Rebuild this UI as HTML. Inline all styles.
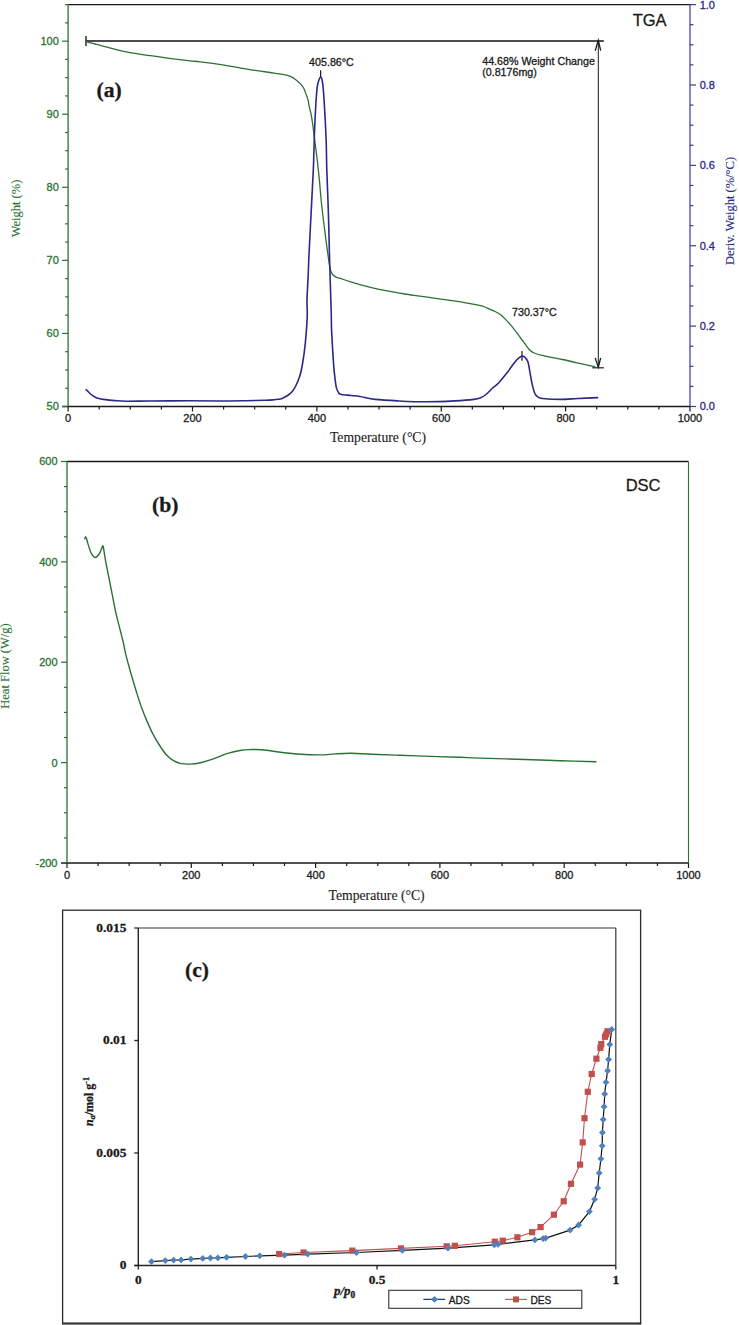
<!DOCTYPE html>
<html><head><meta charset="utf-8"><style>
html,body{margin:0;padding:0;background:#fff;}
svg{display:block;}
text{stroke-width:0.3px;paint-order:stroke;}
.s10{font-family:"Liberation Sans",sans-serif;font-size:10.7px;}
.s11{font-family:"Liberation Sans",sans-serif;font-size:11px;}
.s12{font-family:"Liberation Sans",sans-serif;font-size:10.2px;}
.s16{font-family:"Liberation Sans",sans-serif;font-size:16.5px;}
.r12{font-family:"Liberation Serif",serif;font-size:12.5px;stroke-width:0.12px;}
.r13{font-family:"Liberation Serif",serif;font-size:13.7px;stroke-width:0.12px;}
.b12{font-family:"Liberation Serif",serif;font-size:12px;font-weight:bold;}
.b13{font-family:"Liberation Serif",serif;font-size:13.4px;font-weight:bold;}
.bi13{font-family:"Liberation Serif",serif;font-size:13px;font-weight:bold;font-style:italic;}
.b20{font-family:"Liberation Serif",serif;font-size:21.6px;font-weight:bold;}
.b21{font-family:"Liberation Serif",serif;font-size:21.6px;font-weight:bold;}
</style></head><body>
<svg width="739" height="1325" viewBox="0 0 739 1325">
<rect width="739" height="1325" fill="#fff"/>
<line x1="68.1" y1="4.6" x2="690.0" y2="4.6" stroke="#1a1a1a" stroke-width="1.3"/>
<line x1="62.099999999999994" y1="406.5" x2="690.0" y2="406.5" stroke="#1a1a1a" stroke-width="1.3"/>
<line x1="68.1" y1="4.6" x2="68.1" y2="406.5" stroke="#2a7232" stroke-width="1.3"/>
<line x1="690.0" y1="4.6" x2="690.0" y2="406.5" stroke="#4848a4" stroke-width="1.3"/>
<line x1="62.099999999999994" y1="406.50" x2="68.1" y2="406.50" stroke="#2a7232" stroke-width="1.2"/>
<text x="58.8" y="410.40" text-anchor="end" class="s11" fill="#2a7232" stroke="#2a7232">50</text>
<line x1="65.1" y1="388.23" x2="68.1" y2="388.23" stroke="#2a7232" stroke-width="1.2"/>
<line x1="65.1" y1="369.96" x2="68.1" y2="369.96" stroke="#2a7232" stroke-width="1.2"/>
<line x1="65.1" y1="351.70" x2="68.1" y2="351.70" stroke="#2a7232" stroke-width="1.2"/>
<line x1="62.099999999999994" y1="333.43" x2="68.1" y2="333.43" stroke="#2a7232" stroke-width="1.2"/>
<text x="58.8" y="337.33" text-anchor="end" class="s11" fill="#2a7232" stroke="#2a7232">60</text>
<line x1="65.1" y1="315.16" x2="68.1" y2="315.16" stroke="#2a7232" stroke-width="1.2"/>
<line x1="65.1" y1="296.89" x2="68.1" y2="296.89" stroke="#2a7232" stroke-width="1.2"/>
<line x1="65.1" y1="278.62" x2="68.1" y2="278.62" stroke="#2a7232" stroke-width="1.2"/>
<line x1="62.099999999999994" y1="260.35" x2="68.1" y2="260.35" stroke="#2a7232" stroke-width="1.2"/>
<text x="58.8" y="264.25" text-anchor="end" class="s11" fill="#2a7232" stroke="#2a7232">70</text>
<line x1="65.1" y1="242.09" x2="68.1" y2="242.09" stroke="#2a7232" stroke-width="1.2"/>
<line x1="65.1" y1="223.82" x2="68.1" y2="223.82" stroke="#2a7232" stroke-width="1.2"/>
<line x1="65.1" y1="205.55" x2="68.1" y2="205.55" stroke="#2a7232" stroke-width="1.2"/>
<line x1="62.099999999999994" y1="187.28" x2="68.1" y2="187.28" stroke="#2a7232" stroke-width="1.2"/>
<text x="58.8" y="191.18" text-anchor="end" class="s11" fill="#2a7232" stroke="#2a7232">80</text>
<line x1="65.1" y1="169.01" x2="68.1" y2="169.01" stroke="#2a7232" stroke-width="1.2"/>
<line x1="65.1" y1="150.75" x2="68.1" y2="150.75" stroke="#2a7232" stroke-width="1.2"/>
<line x1="65.1" y1="132.48" x2="68.1" y2="132.48" stroke="#2a7232" stroke-width="1.2"/>
<line x1="62.099999999999994" y1="114.21" x2="68.1" y2="114.21" stroke="#2a7232" stroke-width="1.2"/>
<text x="58.8" y="118.11" text-anchor="end" class="s11" fill="#2a7232" stroke="#2a7232">90</text>
<line x1="65.1" y1="95.94" x2="68.1" y2="95.94" stroke="#2a7232" stroke-width="1.2"/>
<line x1="65.1" y1="77.67" x2="68.1" y2="77.67" stroke="#2a7232" stroke-width="1.2"/>
<line x1="65.1" y1="59.40" x2="68.1" y2="59.40" stroke="#2a7232" stroke-width="1.2"/>
<line x1="62.099999999999994" y1="41.14" x2="68.1" y2="41.14" stroke="#2a7232" stroke-width="1.2"/>
<text x="58.8" y="45.04" text-anchor="end" class="s11" fill="#2a7232" stroke="#2a7232">100</text>
<line x1="65.1" y1="22.87" x2="68.1" y2="22.87" stroke="#2a7232" stroke-width="1.2"/>
<line x1="65.1" y1="4.60" x2="68.1" y2="4.60" stroke="#2a7232" stroke-width="1.2"/>
<line x1="690.0" y1="406.50" x2="696.0" y2="406.50" stroke="#3a3a9c" stroke-width="1.2"/>
<text x="699.7" y="410.40" class="s11" fill="#2a2888" stroke="#2a2888">0.0</text>
<line x1="690.0" y1="386.40" x2="693.5" y2="386.40" stroke="#3a3a9c" stroke-width="1.2"/>
<line x1="690.0" y1="366.31" x2="693.5" y2="366.31" stroke="#3a3a9c" stroke-width="1.2"/>
<line x1="690.0" y1="346.21" x2="693.5" y2="346.21" stroke="#3a3a9c" stroke-width="1.2"/>
<line x1="690.0" y1="326.12" x2="696.0" y2="326.12" stroke="#3a3a9c" stroke-width="1.2"/>
<text x="699.7" y="330.02" class="s11" fill="#2a2888" stroke="#2a2888">0.2</text>
<line x1="690.0" y1="306.02" x2="693.5" y2="306.02" stroke="#3a3a9c" stroke-width="1.2"/>
<line x1="690.0" y1="285.93" x2="693.5" y2="285.93" stroke="#3a3a9c" stroke-width="1.2"/>
<line x1="690.0" y1="265.84" x2="693.5" y2="265.84" stroke="#3a3a9c" stroke-width="1.2"/>
<line x1="690.0" y1="245.74" x2="696.0" y2="245.74" stroke="#3a3a9c" stroke-width="1.2"/>
<text x="699.7" y="249.64" class="s11" fill="#2a2888" stroke="#2a2888">0.4</text>
<line x1="690.0" y1="225.65" x2="693.5" y2="225.65" stroke="#3a3a9c" stroke-width="1.2"/>
<line x1="690.0" y1="205.55" x2="693.5" y2="205.55" stroke="#3a3a9c" stroke-width="1.2"/>
<line x1="690.0" y1="185.45" x2="693.5" y2="185.45" stroke="#3a3a9c" stroke-width="1.2"/>
<line x1="690.0" y1="165.36" x2="696.0" y2="165.36" stroke="#3a3a9c" stroke-width="1.2"/>
<text x="699.7" y="169.26" class="s11" fill="#2a2888" stroke="#2a2888">0.6</text>
<line x1="690.0" y1="145.26" x2="693.5" y2="145.26" stroke="#3a3a9c" stroke-width="1.2"/>
<line x1="690.0" y1="125.17" x2="693.5" y2="125.17" stroke="#3a3a9c" stroke-width="1.2"/>
<line x1="690.0" y1="105.08" x2="693.5" y2="105.08" stroke="#3a3a9c" stroke-width="1.2"/>
<line x1="690.0" y1="84.98" x2="696.0" y2="84.98" stroke="#3a3a9c" stroke-width="1.2"/>
<text x="699.7" y="88.88" class="s11" fill="#2a2888" stroke="#2a2888">0.8</text>
<line x1="690.0" y1="64.88" x2="693.5" y2="64.88" stroke="#3a3a9c" stroke-width="1.2"/>
<line x1="690.0" y1="44.79" x2="693.5" y2="44.79" stroke="#3a3a9c" stroke-width="1.2"/>
<line x1="690.0" y1="24.69" x2="693.5" y2="24.69" stroke="#3a3a9c" stroke-width="1.2"/>
<line x1="690.0" y1="4.60" x2="696.0" y2="4.60" stroke="#3a3a9c" stroke-width="1.2"/>
<text x="699.7" y="8.50" class="s11" fill="#2a2888" stroke="#2a2888">1.0</text>
<line x1="68.10" y1="406.5" x2="68.10" y2="411.5" stroke="#1a1a1a" stroke-width="1.2"/>
<text x="68.10" y="421.6" text-anchor="middle" class="s11" fill="#1a1a1a" stroke="#1a1a1a">0</text>
<line x1="99.19" y1="406.5" x2="99.19" y2="409.5" stroke="#1a1a1a" stroke-width="1.2"/>
<line x1="130.29" y1="406.5" x2="130.29" y2="409.5" stroke="#1a1a1a" stroke-width="1.2"/>
<line x1="161.38" y1="406.5" x2="161.38" y2="409.5" stroke="#1a1a1a" stroke-width="1.2"/>
<line x1="192.48" y1="406.5" x2="192.48" y2="411.5" stroke="#1a1a1a" stroke-width="1.2"/>
<text x="192.48" y="421.6" text-anchor="middle" class="s11" fill="#1a1a1a" stroke="#1a1a1a">200</text>
<line x1="223.57" y1="406.5" x2="223.57" y2="409.5" stroke="#1a1a1a" stroke-width="1.2"/>
<line x1="254.67" y1="406.5" x2="254.67" y2="409.5" stroke="#1a1a1a" stroke-width="1.2"/>
<line x1="285.76" y1="406.5" x2="285.76" y2="409.5" stroke="#1a1a1a" stroke-width="1.2"/>
<line x1="316.86" y1="406.5" x2="316.86" y2="411.5" stroke="#1a1a1a" stroke-width="1.2"/>
<text x="316.86" y="421.6" text-anchor="middle" class="s11" fill="#1a1a1a" stroke="#1a1a1a">400</text>
<line x1="347.96" y1="406.5" x2="347.96" y2="409.5" stroke="#1a1a1a" stroke-width="1.2"/>
<line x1="379.05" y1="406.5" x2="379.05" y2="409.5" stroke="#1a1a1a" stroke-width="1.2"/>
<line x1="410.14" y1="406.5" x2="410.14" y2="409.5" stroke="#1a1a1a" stroke-width="1.2"/>
<line x1="441.24" y1="406.5" x2="441.24" y2="411.5" stroke="#1a1a1a" stroke-width="1.2"/>
<text x="441.24" y="421.6" text-anchor="middle" class="s11" fill="#1a1a1a" stroke="#1a1a1a">600</text>
<line x1="472.34" y1="406.5" x2="472.34" y2="409.5" stroke="#1a1a1a" stroke-width="1.2"/>
<line x1="503.43" y1="406.5" x2="503.43" y2="409.5" stroke="#1a1a1a" stroke-width="1.2"/>
<line x1="534.52" y1="406.5" x2="534.52" y2="409.5" stroke="#1a1a1a" stroke-width="1.2"/>
<line x1="565.62" y1="406.5" x2="565.62" y2="411.5" stroke="#1a1a1a" stroke-width="1.2"/>
<text x="565.62" y="421.6" text-anchor="middle" class="s11" fill="#1a1a1a" stroke="#1a1a1a">800</text>
<line x1="596.72" y1="406.5" x2="596.72" y2="409.5" stroke="#1a1a1a" stroke-width="1.2"/>
<line x1="627.81" y1="406.5" x2="627.81" y2="409.5" stroke="#1a1a1a" stroke-width="1.2"/>
<line x1="658.90" y1="406.5" x2="658.90" y2="409.5" stroke="#1a1a1a" stroke-width="1.2"/>
<line x1="690.00" y1="406.5" x2="690.00" y2="411.5" stroke="#1a1a1a" stroke-width="1.2"/>
<text x="690.00" y="421.6" text-anchor="middle" class="s11" fill="#1a1a1a" stroke="#1a1a1a">1000</text>
<text x="378" y="441.6" text-anchor="middle" class="r13" fill="#1a1a1a" stroke="#1a1a1a">Temperature (°C)</text>
<text transform="translate(20.2,208.5) rotate(-90)" text-anchor="middle" class="r12" fill="#2a7232" stroke="#2a7232">Weight (%)</text>
<text transform="translate(733.8,211) rotate(-90)" text-anchor="middle" class="r12" fill="#2a2888" stroke="#2a2888">Deriv. Weight (%/°C)</text>
<text x="632.7" y="26.3" class="s16" fill="#1a1a1a" stroke="#1a1a1a">TGA</text>
<text x="96.6" y="96.5" class="b21" fill="#1a1a1a" stroke="#1a1a1a">(a)</text>
<line x1="86" y1="41" x2="603.8" y2="41" stroke="#111" stroke-width="1.5"/>
<line x1="86" y1="36" x2="86" y2="46" stroke="#1a1a1a" stroke-width="1.4"/>
<line x1="598.3" y1="40" x2="598.3" y2="367" stroke="#1a1a1a" stroke-width="1"/>
<polyline points="595.2,50.7 598.3,40.2 600.7,50.7" fill="none" stroke="#1a1a1a" stroke-width="1.3"/>
<polyline points="595.2,357.9 598.3,367.2 600.7,357.9" fill="none" stroke="#1a1a1a" stroke-width="1.3"/>
<line x1="592.3" y1="367.8" x2="603.8" y2="367.8" stroke="#1a1a1a" stroke-width="1.2"/>
<text x="482.2" y="64.6" class="s10" fill="#1a1a1a" stroke="#1a1a1a">44.68% Weight Change</text>
<text x="482.2" y="75.8" class="s10" fill="#1a1a1a" stroke="#1a1a1a">(0.8176mg)</text>
<text x="309.1" y="66.1" class="s10" fill="#1a1a1a" stroke="#1a1a1a">405.86°C</text>
<text x="512" y="315.6" class="s10" fill="#1a1a1a" stroke="#1a1a1a">730.37°C</text>
<line x1="320.6" y1="70.3" x2="320.6" y2="78" stroke="#1a1a1a" stroke-width="1.2"/>
<line x1="522" y1="351" x2="522" y2="360.7" stroke="#1a1a1a" stroke-width="1.2"/>
<path d="M86.00,41.30 C86.67,41.52 88.50,42.15 90.00,42.60 C91.50,43.05 93.00,43.45 95.00,44.00 C97.00,44.55 99.53,45.27 102.00,45.90 C104.47,46.53 105.35,46.72 109.80,47.80 C114.25,48.88 122.00,51.10 128.70,52.40 C135.40,53.70 143.23,54.62 150.00,55.60 C156.77,56.58 162.63,57.43 169.30,58.30 C175.97,59.17 184.88,60.22 190.00,60.80 C195.12,61.38 194.58,61.12 200.00,61.80 C205.42,62.48 213.35,63.47 222.50,64.90 C231.65,66.33 246.98,69.13 254.90,70.40 C262.82,71.67 265.93,71.93 270.00,72.50 C274.07,73.07 276.40,73.32 279.30,73.80 C282.20,74.28 285.28,74.85 287.40,75.40 C289.52,75.95 290.65,76.43 292.00,77.10 C293.35,77.77 294.20,78.38 295.50,79.40 C296.80,80.42 298.45,81.77 299.80,83.20 C301.15,84.63 302.52,86.05 303.60,88.00 C304.68,89.95 305.53,92.82 306.30,94.90 C307.07,96.98 307.75,98.77 308.20,100.50 C308.65,102.23 308.53,103.05 309.00,105.30 C309.47,107.55 310.40,110.97 311.00,114.00 C311.60,117.03 311.95,118.90 312.60,123.50 C313.25,128.10 314.13,135.57 314.90,141.60 C315.67,147.63 316.45,153.28 317.20,159.70 C317.95,166.12 318.70,172.97 319.40,180.10 C320.10,187.23 320.53,194.27 321.40,202.50 C322.27,210.73 323.52,220.85 324.60,229.50 C325.68,238.15 327.05,248.23 327.90,254.40 C328.75,260.57 329.18,263.65 329.70,266.50 C330.22,269.35 330.45,270.08 331.00,271.50 C331.55,272.92 332.17,274.05 333.00,275.00 C333.83,275.95 334.92,276.67 336.00,277.20 C337.08,277.73 337.03,277.42 339.50,278.20 C341.97,278.98 347.12,280.73 350.80,281.90 C354.48,283.07 357.98,284.20 361.60,285.20 C365.22,286.20 368.88,287.08 372.50,287.90 C376.12,288.72 379.70,289.38 383.30,290.10 C386.90,290.82 390.50,291.55 394.10,292.20 C397.70,292.85 400.58,293.35 404.90,294.00 C409.22,294.65 415.40,295.45 420.00,296.10 C424.60,296.75 427.50,297.20 432.50,297.90 C437.50,298.60 445.28,299.63 450.00,300.30 C454.72,300.97 457.20,301.30 460.80,301.90 C464.40,302.50 467.98,303.18 471.60,303.90 C475.22,304.62 479.43,305.28 482.50,306.20 C485.57,307.12 487.92,308.52 490.00,309.40 C492.08,310.28 493.27,310.63 495.00,311.50 C496.73,312.37 498.60,313.25 500.40,314.60 C502.20,315.95 504.00,317.77 505.80,319.60 C507.60,321.43 509.38,323.43 511.20,325.60 C513.02,327.77 514.88,330.20 516.70,332.60 C518.52,335.00 520.38,337.67 522.10,340.00 C523.82,342.33 525.60,344.80 527.00,346.60 C528.40,348.40 529.28,349.73 530.50,350.80 C531.72,351.87 532.58,352.27 534.30,353.00 C536.02,353.73 537.92,354.48 540.80,355.20 C543.68,355.92 547.98,356.58 551.60,357.30 C555.22,358.02 558.88,358.72 562.50,359.50 C566.12,360.28 569.70,361.18 573.30,362.00 C576.90,362.82 580.40,363.58 584.10,364.40 C587.80,365.22 593.60,366.48 595.50,366.90" fill="none" stroke="#2a7232" stroke-width="1.3" stroke-linejoin="round"/>
<path d="M85.50,389.30 C85.83,389.55 86.88,390.23 87.50,390.80 C88.12,391.37 88.45,391.97 89.20,392.70 C89.95,393.43 91.05,394.48 92.00,395.20 C92.95,395.92 93.73,396.43 94.90,397.00 C96.07,397.57 97.58,398.20 99.00,398.60 C100.42,399.00 100.73,399.07 103.40,399.40 C106.07,399.73 111.22,400.30 115.00,400.60 C118.78,400.90 120.27,401.13 126.10,401.20 C131.93,401.27 139.58,401.07 150.00,401.00 C160.42,400.93 176.93,400.80 188.60,400.80 C200.27,400.80 210.52,401.02 220.00,401.00 C229.48,400.98 238.00,400.82 245.50,400.70 C253.00,400.58 260.27,400.45 265.00,400.30 C269.73,400.15 271.72,399.97 273.90,399.80 C276.08,399.63 276.75,399.53 278.10,399.30 C279.45,399.07 280.42,399.03 282.00,398.40 C283.58,397.77 285.93,396.60 287.60,395.50 C289.27,394.40 290.65,393.38 292.00,391.80 C293.35,390.22 294.40,388.63 295.70,386.00 C297.00,383.37 298.67,379.67 299.80,376.00 C300.93,372.33 301.60,369.32 302.50,364.00 C303.40,358.68 304.42,351.92 305.20,344.10 C305.98,336.28 306.90,324.45 307.20,317.10 C307.50,309.75 306.83,307.02 307.00,300.00 C307.17,292.98 307.88,282.23 308.20,275.00 C308.52,267.77 308.42,266.88 308.90,256.60 C309.38,246.32 310.37,227.73 311.10,213.30 C311.83,198.87 312.73,183.47 313.30,170.00 C313.87,156.53 314.08,143.28 314.50,132.50 C314.92,121.72 315.35,112.85 315.80,105.30 C316.25,97.75 316.70,91.33 317.20,87.20 C317.70,83.07 318.23,82.20 318.80,80.50 C319.37,78.80 320.03,77.00 320.60,77.00 C321.17,77.00 321.72,78.05 322.20,80.50 C322.68,82.95 323.05,86.05 323.50,91.70 C323.95,97.35 324.45,106.08 324.90,114.40 C325.35,122.72 325.88,132.33 326.20,141.60 C326.52,150.87 326.43,158.05 326.80,170.00 C327.17,181.95 327.95,198.87 328.40,213.30 C328.85,227.73 329.15,243.82 329.50,256.60 C329.85,269.38 330.20,280.27 330.50,290.00 C330.80,299.73 331.12,308.23 331.30,315.00 C331.48,321.77 331.22,322.37 331.60,330.60 C331.98,338.83 333.03,356.42 333.60,364.40 C334.17,372.38 334.55,374.67 335.00,378.50 C335.45,382.33 335.75,385.12 336.30,387.40 C336.85,389.68 337.62,391.07 338.30,392.20 C338.98,393.33 338.25,393.65 340.40,394.20 C342.55,394.75 347.93,395.12 351.20,395.50 C354.47,395.88 356.00,395.85 360.00,396.50 C364.00,397.15 368.88,398.67 375.20,399.40 C381.52,400.13 389.38,400.50 397.90,400.90 C406.42,401.30 416.83,401.80 426.30,401.80 C435.77,401.80 446.80,401.30 454.70,400.90 C462.60,400.50 469.28,399.97 473.70,399.40 C478.12,398.83 479.15,398.32 481.20,397.50 C483.25,396.68 484.10,396.08 486.00,394.50 C487.90,392.92 490.47,389.97 492.60,388.00 C494.73,386.03 496.30,385.35 498.80,382.70 C501.30,380.05 504.97,375.48 507.60,372.10 C510.23,368.72 512.55,364.88 514.60,362.40 C516.65,359.92 518.43,358.22 519.90,357.20 C521.37,356.18 522.23,355.87 523.40,356.30 C524.57,356.73 526.05,358.52 526.90,359.80 C527.75,361.08 528.05,362.23 528.50,364.00 C528.95,365.77 528.98,367.00 529.60,370.40 C530.22,373.80 531.47,380.97 532.20,384.40 C532.93,387.83 533.42,389.23 534.00,391.00 C534.58,392.77 534.87,393.90 535.70,395.00 C536.53,396.10 537.82,397.02 539.00,397.60 C540.18,398.18 539.23,398.20 542.80,398.50 C546.37,398.80 554.53,399.40 560.40,399.40 C566.27,399.40 571.70,398.80 578.00,398.50 C584.30,398.20 594.83,397.75 598.20,397.60" fill="none" stroke="#2a2888" stroke-width="1.6" stroke-linejoin="round"/>
<line x1="67.0" y1="461.5" x2="688.5" y2="461.5" stroke="#1a1a1a" stroke-width="1.4"/>
<line x1="61.0" y1="863.0" x2="688.5" y2="863.0" stroke="#1a1a1a" stroke-width="1.3"/>
<line x1="67.0" y1="461.5" x2="67.0" y2="863.0" stroke="#2a7232" stroke-width="1.3"/>
<line x1="688.5" y1="461.5" x2="688.5" y2="863.0" stroke="#2a7232" stroke-width="1.1"/>
<line x1="61.0" y1="863.00" x2="67.0" y2="863.00" stroke="#2a7232" stroke-width="1.2"/>
<text x="57.5" y="866.90" text-anchor="end" class="s11" fill="#2a7232" stroke="#2a7232">-200</text>
<line x1="64.0" y1="837.91" x2="67.0" y2="837.91" stroke="#2a7232" stroke-width="1.2"/>
<line x1="64.0" y1="812.81" x2="67.0" y2="812.81" stroke="#2a7232" stroke-width="1.2"/>
<line x1="64.0" y1="787.72" x2="67.0" y2="787.72" stroke="#2a7232" stroke-width="1.2"/>
<line x1="61.0" y1="762.62" x2="67.0" y2="762.62" stroke="#2a7232" stroke-width="1.2"/>
<text x="57.5" y="766.52" text-anchor="end" class="s11" fill="#2a7232" stroke="#2a7232">0</text>
<line x1="64.0" y1="737.53" x2="67.0" y2="737.53" stroke="#2a7232" stroke-width="1.2"/>
<line x1="64.0" y1="712.44" x2="67.0" y2="712.44" stroke="#2a7232" stroke-width="1.2"/>
<line x1="64.0" y1="687.34" x2="67.0" y2="687.34" stroke="#2a7232" stroke-width="1.2"/>
<line x1="61.0" y1="662.25" x2="67.0" y2="662.25" stroke="#2a7232" stroke-width="1.2"/>
<text x="57.5" y="666.15" text-anchor="end" class="s11" fill="#2a7232" stroke="#2a7232">200</text>
<line x1="64.0" y1="637.16" x2="67.0" y2="637.16" stroke="#2a7232" stroke-width="1.2"/>
<line x1="64.0" y1="612.06" x2="67.0" y2="612.06" stroke="#2a7232" stroke-width="1.2"/>
<line x1="64.0" y1="586.97" x2="67.0" y2="586.97" stroke="#2a7232" stroke-width="1.2"/>
<line x1="61.0" y1="561.88" x2="67.0" y2="561.88" stroke="#2a7232" stroke-width="1.2"/>
<text x="57.5" y="565.77" text-anchor="end" class="s11" fill="#2a7232" stroke="#2a7232">400</text>
<line x1="64.0" y1="536.78" x2="67.0" y2="536.78" stroke="#2a7232" stroke-width="1.2"/>
<line x1="64.0" y1="511.69" x2="67.0" y2="511.69" stroke="#2a7232" stroke-width="1.2"/>
<line x1="64.0" y1="486.59" x2="67.0" y2="486.59" stroke="#2a7232" stroke-width="1.2"/>
<line x1="61.0" y1="461.50" x2="67.0" y2="461.50" stroke="#2a7232" stroke-width="1.2"/>
<text x="57.5" y="465.40" text-anchor="end" class="s11" fill="#2a7232" stroke="#2a7232">600</text>
<line x1="67.00" y1="863.0" x2="67.00" y2="868.0" stroke="#1a1a1a" stroke-width="1.2"/>
<text x="67.00" y="878.6" text-anchor="middle" class="s11" fill="#1a1a1a" stroke="#1a1a1a">0</text>
<line x1="98.08" y1="863.0" x2="98.08" y2="866.0" stroke="#1a1a1a" stroke-width="1.2"/>
<line x1="129.15" y1="863.0" x2="129.15" y2="866.0" stroke="#1a1a1a" stroke-width="1.2"/>
<line x1="160.22" y1="863.0" x2="160.22" y2="866.0" stroke="#1a1a1a" stroke-width="1.2"/>
<line x1="191.30" y1="863.0" x2="191.30" y2="868.0" stroke="#1a1a1a" stroke-width="1.2"/>
<text x="191.30" y="878.6" text-anchor="middle" class="s11" fill="#1a1a1a" stroke="#1a1a1a">200</text>
<line x1="222.38" y1="863.0" x2="222.38" y2="866.0" stroke="#1a1a1a" stroke-width="1.2"/>
<line x1="253.45" y1="863.0" x2="253.45" y2="866.0" stroke="#1a1a1a" stroke-width="1.2"/>
<line x1="284.52" y1="863.0" x2="284.52" y2="866.0" stroke="#1a1a1a" stroke-width="1.2"/>
<line x1="315.60" y1="863.0" x2="315.60" y2="868.0" stroke="#1a1a1a" stroke-width="1.2"/>
<text x="315.60" y="878.6" text-anchor="middle" class="s11" fill="#1a1a1a" stroke="#1a1a1a">400</text>
<line x1="346.68" y1="863.0" x2="346.68" y2="866.0" stroke="#1a1a1a" stroke-width="1.2"/>
<line x1="377.75" y1="863.0" x2="377.75" y2="866.0" stroke="#1a1a1a" stroke-width="1.2"/>
<line x1="408.82" y1="863.0" x2="408.82" y2="866.0" stroke="#1a1a1a" stroke-width="1.2"/>
<line x1="439.90" y1="863.0" x2="439.90" y2="868.0" stroke="#1a1a1a" stroke-width="1.2"/>
<text x="439.90" y="878.6" text-anchor="middle" class="s11" fill="#1a1a1a" stroke="#1a1a1a">600</text>
<line x1="470.98" y1="863.0" x2="470.98" y2="866.0" stroke="#1a1a1a" stroke-width="1.2"/>
<line x1="502.05" y1="863.0" x2="502.05" y2="866.0" stroke="#1a1a1a" stroke-width="1.2"/>
<line x1="533.12" y1="863.0" x2="533.12" y2="866.0" stroke="#1a1a1a" stroke-width="1.2"/>
<line x1="564.20" y1="863.0" x2="564.20" y2="868.0" stroke="#1a1a1a" stroke-width="1.2"/>
<text x="564.20" y="878.6" text-anchor="middle" class="s11" fill="#1a1a1a" stroke="#1a1a1a">800</text>
<line x1="595.27" y1="863.0" x2="595.27" y2="866.0" stroke="#1a1a1a" stroke-width="1.2"/>
<line x1="626.35" y1="863.0" x2="626.35" y2="866.0" stroke="#1a1a1a" stroke-width="1.2"/>
<line x1="657.42" y1="863.0" x2="657.42" y2="866.0" stroke="#1a1a1a" stroke-width="1.2"/>
<line x1="688.50" y1="863.0" x2="688.50" y2="868.0" stroke="#1a1a1a" stroke-width="1.2"/>
<text x="688.50" y="878.6" text-anchor="middle" class="s11" fill="#1a1a1a" stroke="#1a1a1a">1000</text>
<text x="376.6" y="899.6" text-anchor="middle" class="r13" fill="#1a1a1a" stroke="#1a1a1a">Temperature (°C)</text>
<text transform="translate(9.3,666) rotate(-90)" text-anchor="middle" class="r12" fill="#2a7232" stroke="#2a7232">Heat Flow (W/g)</text>
<text x="625.7" y="491" class="s16" fill="#1a1a1a" stroke="#1a1a1a">DSC</text>
<text x="152" y="511.5" class="b21" fill="#1a1a1a" stroke="#1a1a1a">(b)</text>
<path d="M84.50,539.30 C84.68,538.85 85.22,536.57 85.60,536.60 C85.98,536.63 86.40,538.28 86.80,539.50 C87.20,540.72 87.35,541.80 88.00,543.90 C88.65,546.00 89.87,550.08 90.70,552.10 C91.53,554.12 92.18,555.10 93.00,556.00 C93.82,556.90 94.77,557.58 95.60,557.50 C96.43,557.42 97.28,556.32 98.00,555.50 C98.72,554.68 99.32,553.68 99.90,552.60 C100.48,551.52 100.98,550.10 101.50,549.00 C102.02,547.90 102.52,545.25 103.00,546.00 C103.48,546.75 103.92,550.73 104.40,553.50 C104.88,556.27 105.20,558.82 105.90,562.60 C106.60,566.38 107.55,570.92 108.60,576.20 C109.65,581.48 111.00,588.27 112.20,594.30 C113.40,600.33 114.45,606.37 115.80,612.40 C117.15,618.43 119.07,625.57 120.30,630.50 C121.53,635.43 122.32,638.15 123.20,642.00 C124.08,645.85 124.60,649.40 125.60,653.60 C126.60,657.80 127.95,662.67 129.20,667.20 C130.45,671.73 131.77,676.27 133.10,680.80 C134.43,685.33 135.77,689.87 137.20,694.40 C138.63,698.93 140.03,703.47 141.70,708.00 C143.37,712.53 145.23,717.07 147.20,721.60 C149.17,726.13 151.32,731.05 153.50,735.20 C155.68,739.35 158.08,743.15 160.30,746.50 C162.52,749.85 164.60,752.93 166.80,755.30 C169.00,757.67 171.25,759.35 173.50,760.70 C175.75,762.05 177.58,762.83 180.30,763.40 C183.02,763.97 186.42,764.22 189.80,764.10 C193.18,763.98 196.55,763.60 200.60,762.70 C204.65,761.80 209.58,760.27 214.10,758.70 C218.62,757.13 223.18,754.72 227.70,753.30 C232.22,751.88 237.48,750.82 241.20,750.20 C244.92,749.58 246.50,749.67 250.00,749.60 C253.50,749.53 257.13,749.35 262.20,749.80 C267.27,750.25 273.98,751.55 280.40,752.30 C286.82,753.05 293.93,753.87 300.70,754.30 C307.47,754.73 315.25,754.97 321.00,754.90 C326.75,754.83 330.12,754.17 335.20,753.90 C340.28,753.63 345.40,753.23 351.50,753.30 C357.60,753.37 363.72,753.97 371.80,754.30 C379.88,754.63 390.12,754.95 400.00,755.30 C409.88,755.65 421.10,756.07 431.10,756.40 C441.10,756.73 451.85,757.02 460.00,757.30 C468.15,757.58 469.17,757.73 480.00,758.10 C490.83,758.47 511.67,759.07 525.00,759.50 C538.33,759.93 548.10,760.32 560.00,760.70 C571.90,761.08 590.33,761.62 596.40,761.80" fill="none" stroke="#2a7232" stroke-width="1.4" stroke-linejoin="round"/>
<rect x="62.6" y="910.2" width="578" height="413.3" fill="none" stroke="#2a2a2a" stroke-width="1.3"/>
<line x1="62" y1="1323.6" x2="641.3" y2="1323.6" stroke="#333" stroke-width="2"/>
<line x1="138.3" y1="928.0" x2="615.8" y2="928.0" stroke="#777" stroke-width="1.3"/>
<line x1="615.8" y1="928.0" x2="615.8" y2="1265.5" stroke="#444" stroke-width="1.3"/>
<line x1="138.3" y1="928.0" x2="138.3" y2="1265.5" stroke="#222" stroke-width="1.4"/>
<line x1="134.3" y1="1265.5" x2="615.8" y2="1265.5" stroke="#222" stroke-width="1.5"/>
<line x1="134.3" y1="1265.50" x2="138.3" y2="1265.50" stroke="#222" stroke-width="1.3"/>
<text x="126.4" y="1269.20" text-anchor="end" class="b13" fill="#1a1a1a" stroke="#1a1a1a">0</text>
<line x1="134.3" y1="1153.00" x2="138.3" y2="1153.00" stroke="#222" stroke-width="1.3"/>
<text x="126.4" y="1156.70" text-anchor="end" class="b13" fill="#1a1a1a" stroke="#1a1a1a">0.005</text>
<line x1="134.3" y1="1040.50" x2="138.3" y2="1040.50" stroke="#222" stroke-width="1.3"/>
<text x="126.4" y="1044.20" text-anchor="end" class="b13" fill="#1a1a1a" stroke="#1a1a1a">0.01</text>
<line x1="134.3" y1="928.00" x2="138.3" y2="928.00" stroke="#222" stroke-width="1.3"/>
<text x="126.4" y="931.70" text-anchor="end" class="b13" fill="#1a1a1a" stroke="#1a1a1a">0.015</text>
<line x1="138.30" y1="1265.5" x2="138.30" y2="1269.5" stroke="#222" stroke-width="1.3"/>
<text x="138.30" y="1284.4" text-anchor="middle" class="b13" fill="#1a1a1a" stroke="#1a1a1a">0</text>
<line x1="377.05" y1="1265.5" x2="377.05" y2="1269.5" stroke="#222" stroke-width="1.3"/>
<text x="377.05" y="1284.4" text-anchor="middle" class="b13" fill="#1a1a1a" stroke="#1a1a1a">0.5</text>
<line x1="615.80" y1="1265.5" x2="615.80" y2="1269.5" stroke="#222" stroke-width="1.3"/>
<text x="615.80" y="1284.4" text-anchor="middle" class="b13" fill="#1a1a1a" stroke="#1a1a1a">1</text>
<text x="185" y="976.5" class="b20" fill="#1a1a1a" stroke="#1a1a1a">(c)</text>
<text transform="translate(92.6,1101.5) rotate(-90)" text-anchor="middle" class="b12" fill="#1a1a1a" stroke="#1a1a1a"><tspan font-style="italic">n</tspan><tspan font-style="italic" font-size="8" dy="2.5">a</tspan><tspan dy="-2.5">/mol g</tspan><tspan font-size="8" dy="-4">-1</tspan></text>
<text x="333.9" y="1295.2" class="bi13" fill="#1a1a1a" stroke="#1a1a1a">p/p<tspan font-size="9.5" font-style="normal" dy="2.5">0</tspan></text>
<polyline points="279.2,1254.0 303.6,1252.5 352.3,1250.6 401.0,1248.4 446.7,1246.3 454.9,1245.8 494.8,1241.7 502.8,1240.7 517.4,1237.3 532.1,1232.2 540.6,1227.1 553.9,1214.7 563.7,1201.3 571.0,1183.8 580.1,1164.6 582.7,1142.4 584.5,1118.2 587.8,1091.8 591.7,1074.0 596.4,1058.7 600.4,1047.8 601.3,1044.1 605.0,1036.8 606.2,1034.4 607.4,1031.3" fill="none" stroke="#c0504d" stroke-width="1.1"/>
<polyline points="151.5,1261.6 165.3,1260.6 173.6,1260.1 181.1,1259.9 190.9,1259.1 202.8,1258.4 210.4,1258.0 217.9,1257.8 226.6,1257.3 245.4,1256.5 259.7,1255.8 284.5,1255.2 307.7,1254.1 356.4,1252.5 402.4,1250.3 448.0,1248.1 494.3,1244.8 498.1,1244.3 534.9,1239.9 543.1,1238.6 545.7,1238.1 570.1,1230.1 578.6,1225.0 589.4,1211.6 594.6,1199.3 597.7,1188.0 599.2,1173.0 600.9,1158.8 602.2,1145.8 602.4,1132.6 603.2,1119.5 604.1,1106.7 604.7,1094.1 606.0,1082.3 607.6,1070.8 608.6,1059.4 609.8,1044.4 611.7,1029.5" fill="none" stroke="#111" stroke-width="1.2"/>
<rect x="276.1" y="1250.9" width="6.2" height="6.2" fill="#c0504d"/>
<rect x="300.5" y="1249.4" width="6.2" height="6.2" fill="#c0504d"/>
<rect x="349.2" y="1247.5" width="6.2" height="6.2" fill="#c0504d"/>
<rect x="397.9" y="1245.3" width="6.2" height="6.2" fill="#c0504d"/>
<rect x="443.6" y="1243.2" width="6.2" height="6.2" fill="#c0504d"/>
<rect x="451.8" y="1242.7" width="6.2" height="6.2" fill="#c0504d"/>
<rect x="491.7" y="1238.6" width="6.2" height="6.2" fill="#c0504d"/>
<rect x="499.7" y="1237.6" width="6.2" height="6.2" fill="#c0504d"/>
<rect x="514.3" y="1234.2" width="6.2" height="6.2" fill="#c0504d"/>
<rect x="529.0" y="1229.1" width="6.2" height="6.2" fill="#c0504d"/>
<rect x="537.5" y="1224.0" width="6.2" height="6.2" fill="#c0504d"/>
<rect x="550.8" y="1211.6" width="6.2" height="6.2" fill="#c0504d"/>
<rect x="560.6" y="1198.2" width="6.2" height="6.2" fill="#c0504d"/>
<rect x="567.9" y="1180.7" width="6.2" height="6.2" fill="#c0504d"/>
<rect x="577.0" y="1161.5" width="6.2" height="6.2" fill="#c0504d"/>
<rect x="579.6" y="1139.3" width="6.2" height="6.2" fill="#c0504d"/>
<rect x="581.4" y="1115.1" width="6.2" height="6.2" fill="#c0504d"/>
<rect x="584.7" y="1088.7" width="6.2" height="6.2" fill="#c0504d"/>
<rect x="588.6" y="1070.9" width="6.2" height="6.2" fill="#c0504d"/>
<rect x="593.3" y="1055.6" width="6.2" height="6.2" fill="#c0504d"/>
<rect x="597.3" y="1044.7" width="6.2" height="6.2" fill="#c0504d"/>
<rect x="598.2" y="1041.0" width="6.2" height="6.2" fill="#c0504d"/>
<rect x="601.9" y="1033.7" width="6.2" height="6.2" fill="#c0504d"/>
<rect x="603.1" y="1031.3" width="6.2" height="6.2" fill="#c0504d"/>
<rect x="604.3" y="1028.2" width="6.2" height="6.2" fill="#c0504d"/>
<polygon points="151.5,1258.2 154.9,1261.6 151.5,1265.0 148.1,1261.6" fill="#4f81bd"/>
<polygon points="165.3,1257.2 168.7,1260.6 165.3,1264.0 161.9,1260.6" fill="#4f81bd"/>
<polygon points="173.6,1256.7 177.0,1260.1 173.6,1263.5 170.2,1260.1" fill="#4f81bd"/>
<polygon points="181.1,1256.5 184.5,1259.9 181.1,1263.3 177.7,1259.9" fill="#4f81bd"/>
<polygon points="190.9,1255.7 194.3,1259.1 190.9,1262.5 187.5,1259.1" fill="#4f81bd"/>
<polygon points="202.8,1255.0 206.2,1258.4 202.8,1261.8 199.4,1258.4" fill="#4f81bd"/>
<polygon points="210.4,1254.6 213.8,1258.0 210.4,1261.4 207.0,1258.0" fill="#4f81bd"/>
<polygon points="217.9,1254.4 221.3,1257.8 217.9,1261.2 214.5,1257.8" fill="#4f81bd"/>
<polygon points="226.6,1253.9 230.0,1257.3 226.6,1260.7 223.2,1257.3" fill="#4f81bd"/>
<polygon points="245.4,1253.1 248.8,1256.5 245.4,1259.9 242.0,1256.5" fill="#4f81bd"/>
<polygon points="259.7,1252.4 263.1,1255.8 259.7,1259.2 256.3,1255.8" fill="#4f81bd"/>
<polygon points="284.5,1251.8 287.9,1255.2 284.5,1258.6 281.1,1255.2" fill="#4f81bd"/>
<polygon points="307.7,1250.7 311.1,1254.1 307.7,1257.5 304.3,1254.1" fill="#4f81bd"/>
<polygon points="356.4,1249.1 359.8,1252.5 356.4,1255.9 353.0,1252.5" fill="#4f81bd"/>
<polygon points="402.4,1246.9 405.8,1250.3 402.4,1253.7 399.0,1250.3" fill="#4f81bd"/>
<polygon points="448.0,1244.7 451.4,1248.1 448.0,1251.5 444.6,1248.1" fill="#4f81bd"/>
<polygon points="494.3,1241.4 497.7,1244.8 494.3,1248.2 490.9,1244.8" fill="#4f81bd"/>
<polygon points="498.1,1240.9 501.5,1244.3 498.1,1247.7 494.7,1244.3" fill="#4f81bd"/>
<polygon points="534.9,1236.5 538.3,1239.9 534.9,1243.3 531.5,1239.9" fill="#4f81bd"/>
<polygon points="543.1,1235.2 546.5,1238.6 543.1,1242.0 539.7,1238.6" fill="#4f81bd"/>
<polygon points="545.7,1234.7 549.1,1238.1 545.7,1241.5 542.3,1238.1" fill="#4f81bd"/>
<polygon points="570.1,1226.7 573.5,1230.1 570.1,1233.5 566.7,1230.1" fill="#4f81bd"/>
<polygon points="578.6,1221.6 582.0,1225.0 578.6,1228.4 575.2,1225.0" fill="#4f81bd"/>
<polygon points="589.4,1208.2 592.8,1211.6 589.4,1215.0 586.0,1211.6" fill="#4f81bd"/>
<polygon points="594.6,1195.9 598.0,1199.3 594.6,1202.7 591.2,1199.3" fill="#4f81bd"/>
<polygon points="597.7,1184.6 601.1,1188.0 597.7,1191.4 594.3,1188.0" fill="#4f81bd"/>
<polygon points="599.2,1169.6 602.6,1173.0 599.2,1176.4 595.8,1173.0" fill="#4f81bd"/>
<polygon points="600.9,1155.4 604.3,1158.8 600.9,1162.2 597.5,1158.8" fill="#4f81bd"/>
<polygon points="602.2,1142.4 605.6,1145.8 602.2,1149.2 598.8,1145.8" fill="#4f81bd"/>
<polygon points="602.4,1129.2 605.8,1132.6 602.4,1136.0 599.0,1132.6" fill="#4f81bd"/>
<polygon points="603.2,1116.1 606.6,1119.5 603.2,1122.9 599.8,1119.5" fill="#4f81bd"/>
<polygon points="604.1,1103.3 607.5,1106.7 604.1,1110.1 600.7,1106.7" fill="#4f81bd"/>
<polygon points="604.7,1090.7 608.1,1094.1 604.7,1097.5 601.3,1094.1" fill="#4f81bd"/>
<polygon points="606.0,1078.9 609.4,1082.3 606.0,1085.7 602.6,1082.3" fill="#4f81bd"/>
<polygon points="607.6,1067.4 611.0,1070.8 607.6,1074.2 604.2,1070.8" fill="#4f81bd"/>
<polygon points="608.6,1056.0 612.0,1059.4 608.6,1062.8 605.2,1059.4" fill="#4f81bd"/>
<polygon points="609.8,1041.0 613.2,1044.4 609.8,1047.8 606.4,1044.4" fill="#4f81bd"/>
<polygon points="611.7,1026.1 615.1,1029.5 611.7,1032.9 608.3,1029.5" fill="#4f81bd"/>
<rect x="388.8" y="1290.3" width="193" height="18" fill="#fff" stroke="#333" stroke-width="1.1"/>
<line x1="423.5" y1="1299.4" x2="445.1" y2="1299.4" stroke="#4f81bd" stroke-width="1.1"/>
<line x1="423.5" y1="1299.4" x2="445.1" y2="1299.4" stroke="#1a3a6a" stroke-width="1.1"/>
<polygon points="434.5,1296 438,1299.4 434.5,1302.8 431,1299.4" fill="#4f81bd"/>
<text x="448.8" y="1303.6" class="s12" fill="#1a1a1a" stroke="#1a1a1a">ADS</text>
<line x1="505.1" y1="1299.4" x2="527" y2="1299.4" stroke="#c0504d" stroke-width="1.1"/>
<rect x="513" y="1296.4" width="6" height="6" fill="#c0504d"/>
<text x="530.4" y="1303.6" class="s12" fill="#1a1a1a" stroke="#1a1a1a">DES</text>
</svg>
</body></html>
